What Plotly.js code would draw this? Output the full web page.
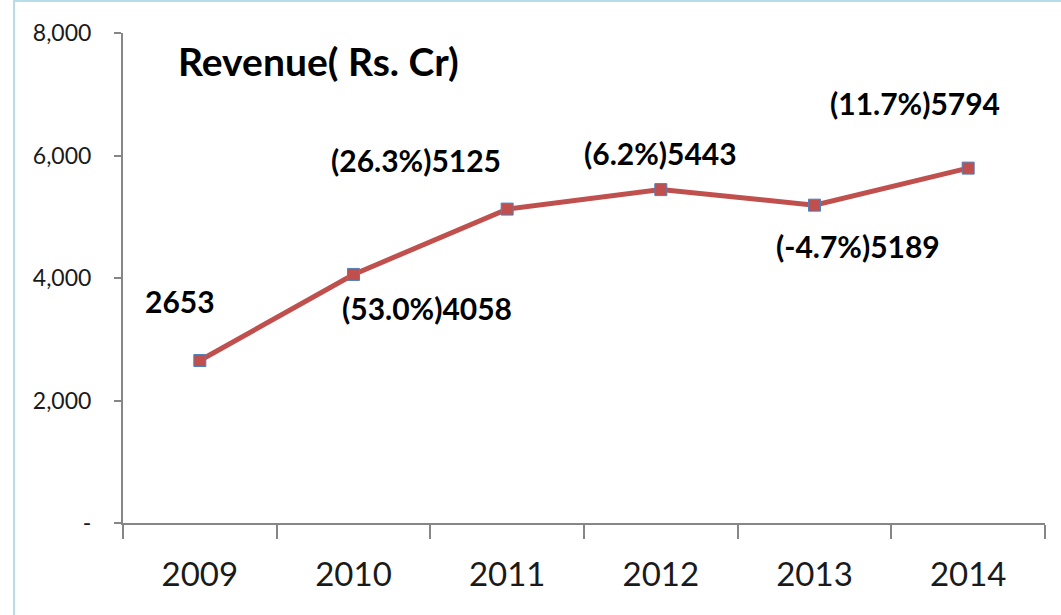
<!DOCTYPE html>
<html><head><meta charset="utf-8">
<script src="https://cdn.plot.ly/plotly-3.0.1.min.js"></script>
<style>
html,body{margin:0;padding:0;background:#fff;}
#wrap{position:relative;width:1061px;height:615px;overflow:hidden;}
#frame{position:absolute;left:13px;top:0;width:1100px;height:700px;border-left:2px solid #B7DDE8;border-top:2px solid #B7DDE8;pointer-events:none;}
#chart{position:absolute;left:0;top:0;width:1061px;height:615px;}
</style></head>
<body><div id="wrap"><div id="chart"></div><div id="frame"></div></div>
<script>
const years = ['2009','2010','2011','2012','2013','2014'];
const revenue = [2653, 4058, 5125, 5443, 5189, 5794];
const labels = ['2653','(53.0%)4058','(26.3%)5125','(6.2%)5443','(-4.7%)5189','(11.7%)5794'];
const yTickVals = [0, 2000, 4000, 6000, 8000];
const yTickText = ['-', '2,000', '4,000', '6,000', '8,000'];
const labelShiftX = [-20, 73, -91, 0, 43, -53];
const labelShiftY = [60, -34, 49, 37, -41, 65];

const trace = {
  x: years, y: revenue, type: 'scatter', mode: 'lines+markers',
  line: {color: '#C0504D', width: 5},
  marker: {symbol: 'square', size: 12, color: '#C0504D', line: {color: '#4F81BD', width: 1}},
  hoverinfo: 'skip'
};

const annotations = years.map((yr, i) => ({
  x: i, y: revenue[i], xref: 'x', yref: 'y', text: '<b>' + labels[i] + '</b>',
  showarrow: false, xshift: labelShiftX[i], yshift: labelShiftY[i],
  xanchor: 'center', yanchor: 'middle',
  font: {family: 'Lato, "Open Sans", sans-serif', size: 30, color: '#000'}
}));
annotations.push({
  xref: 'paper', yref: 'paper', x: 0.057, y: 0.943, xanchor: 'left', yanchor: 'middle',
  text: '<b>Revenue( Rs. Cr)</b>', showarrow: false,
  font: {family: 'Lato, "Open Sans", sans-serif', size: 39, color: '#000'}
});

const layout = {
  width: 1061, height: 615,
  margin: {l: 123, r: 16, t: 33, b: 92, pad: 0},
  paper_bgcolor: '#fff', plot_bgcolor: '#fff',
  showlegend: false,
  xaxis: {
    type: 'category', showgrid: false, zeroline: false,
    showline: true, linecolor: '#868686', linewidth: 2,
    ticks: 'outside', tickson: 'boundaries', ticklen: 14, tickcolor: '#868686', tickwidth: 2,
    ticklabelstandoff: 21,
    tickfont: {family: 'Lato, "Open Sans", sans-serif', size: 33, color: '#1a1a1a'},
    range: [-0.5, 5.5]
  },
  yaxis: {
    range: [0, 8000], showgrid: false, zeroline: false,
    showline: true, linecolor: '#868686', linewidth: 2,
    ticks: 'outside', ticklen: 7, tickcolor: '#868686', tickwidth: 2,
    tickvals: yTickVals, ticktext: yTickText, ticklabelstandoff: 18,
    tickfont: {family: 'Lato, "Open Sans", sans-serif', size: 23, color: '#1a1a1a'}
  },
  annotations: annotations
};

Plotly.newPlot('chart', [trace], layout, {displayModeBar: false, staticPlot: true});
</script></body></html>
